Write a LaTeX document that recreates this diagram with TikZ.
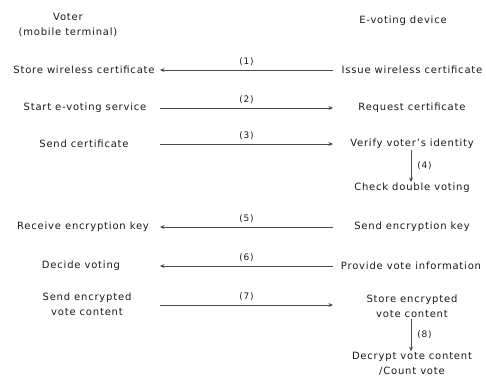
\documentclass[tikz,border=0pt]{standalone}
\usepackage{fontspec}
\setmainfont{DejaVu Sans}[LetterSpace=8]
\usepackage{tikz}
\usetikzlibrary{arrows.meta}
\definecolor{ink}{HTML}{1A1A1A}
\definecolor{wire}{HTML}{4A4A4A}
\tikzset{
  lbl/.style={text=ink, font=\fontsize{10}{15}\selectfont, inner sep=1pt, align=center},
  num/.style={text=ink, font=\fontsize{9}{10}\selectfont, inner sep=1pt},
  msg/.style={draw=wire, line width=0.7pt, -{Stealth[length=4.5pt,width=4pt]}}
}

\begin{document}
\begin{tikzpicture}[x=1pt,y=-1pt]
  \useasboundingbox (0,0) rectangle (486,381);
  \def\xl{160}
  \def\xr{333}

  % headers
  \node[lbl] (voter) at (68,25) {Voter\\(mobile terminal)};
  \node[lbl] (dev) at (403,21) {E-voting device};

  % left column
  \node[lbl] (l1) at (84,70) {Store wireless certificate};
  \node[lbl] (l2) at (85,108) {Start e-voting service};
  \node[lbl] (l3) at (84,144) {Send certificate};
  \node[lbl] (l5) at (83,227) {Receive encryption key};
  \node[lbl] (l6) at (81,266) {Decide voting};
  \node[lbl] (l7) at (87,304) {Send encrypted\\vote content};

  % right column
  \node[lbl] (r1) at (412,70) {Issue wireless certificate};
  \node[lbl] (r2) at (412,108) {Request certificate};
  \node[lbl] (r3) at (412,144) {Verify voter's identity};
  \node[lbl] (r4) at (412,188) {Check double voting};
  \node[lbl] (r5) at (412,227) {Send encryption key};
  \node[lbl] (r6) at (411,266) {Provide vote information};
  \node[lbl] (r7) at (412,306) {Store encrypted\\vote content};
  \node[lbl] (r8) at (412,364) {Decrypt vote content\\/Count vote};

  % line ends
  \foreach \i/\y in {1/70,2/108,3/144,5/227,6/266,7/305} {
    \coordinate (a\i) at (\xl,\y);
    \coordinate (b\i) at (\xr,\y);
  }

  \draw[msg] (b1) -- (a1) node[num, midway, above=3pt] {(1)};
  \draw[msg] (a2) -- (b2) node[num, midway, above=3pt] {(2)};
  \draw[msg] (a3) -- (b3) node[num, midway, above=3pt] {(3)};
  \draw[msg] (b5) -- (a5) node[num, midway, above=3pt] {(5)};
  \draw[msg] (b6) -- (a6) node[num, midway, above=3pt] {(6)};
  \draw[msg] (a7) -- (b7) node[num, midway, above=3pt] {(7)};

  \draw[msg] (r3.south -| 411,0) -- (r4.north -| 411,0) node[num, midway, right=5pt] {(4)};
  \draw[msg] (r7.south -| 411,0) -- (r8.north -| 411,0) node[num, midway, right=5pt] {(8)};
\end{tikzpicture}
\end{document}
